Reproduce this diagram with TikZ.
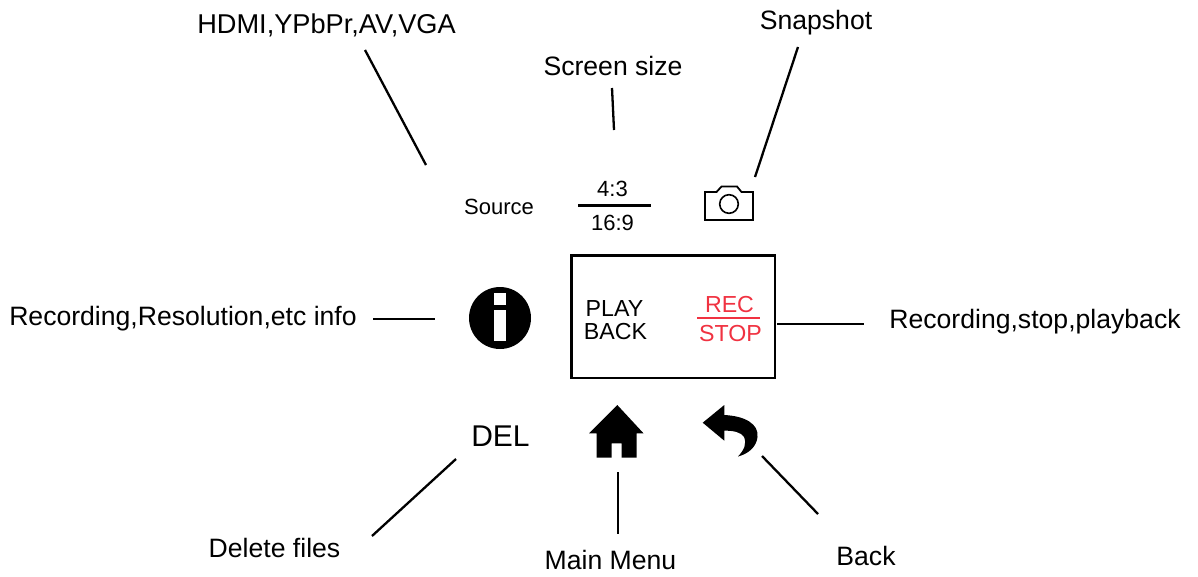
\documentclass[tikz,border=0pt]{standalone}
\usepackage{fontspec}
\setmainfont{Liberation Sans}
\definecolor{recred}{RGB}{240,50,65}
\tikzset{
 lbl/.style={inner sep=0pt,anchor=base,font=\fontsize{26.6}{26.6}\selectfont},
 small/.style={inner sep=0pt,anchor=base,font=\fontsize{22}{22}\selectfont},
 inbox/.style={inner sep=0pt,anchor=base,font=\fontsize{23.2}{23.2}\selectfont},
 conn/.style={line width=2.3pt,black},
 thin rule/.style={line width=2.3pt},
 pic line/.style={line width=2.6pt,black}
}
\begin{document}
\begin{tikzpicture}[x=1pt,y=-1pt]
\useasboundingbox (0,0) rectangle (1198,576);
\node[lbl,font=\fontsize{27.2}{27.2}\selectfont] (hdmi) at (326.5,33) {HDMI,YPbPr,AV,VGA};
\node[lbl] (screen) at (613,75) {Screen size};
\node[lbl] (snap) at (816,29) {Snapshot};
\node[small] (source) at (499,214) {Source};
\node[small] (r43) at (612.5,196) {4:3};
\node[small] (r169) at (612.5,230) {16:9};
\node[lbl] (info) at (183,325) {Recording,Resolution,etc info};
\node[lbl] (rec) at (1035,328) {Recording,stop,playback};
\node[lbl,font=\fontsize{30}{30}\selectfont] (del) at (500.5,446) {DEL};
\node[lbl] (delf) at (274.5,557) {Delete files};
\node[lbl] (menu) at (610.5,569) {Main Menu};
\node[lbl] (back) at (866,565) {Back};
\node[draw,pic line,minimum width=203.5pt,minimum height=122.5pt,inner sep=0pt] (box) at (673.25,316.75) {};
\node[inbox] (play) at (614.5,316.5) {PLAY};
\node[inbox] (pback) at (615.5,339) {BACK};
\node[inbox,text=recred] (recw) at (729.5,312) {REC};
\node[inbox,text=recred] (stop) at (730.5,341) {STOP};
% rules
\coordinate (ra) at (578,205.5); \coordinate (rb) at (651,205.5);
\draw[thin rule] (ra) -- (rb);
\coordinate (rc) at (697,318); \coordinate (rd) at (760,318);
\draw[thin rule,recred] (rc) -- (rd);
% connectors
\coordinate (a1) at (365,50); \coordinate (a2) at (426,165);
\coordinate (b1) at (612,88); \coordinate (b2) at (614,130);
\coordinate (c1) at (798,47); \coordinate (c2) at (755,177);
\coordinate (d1) at (373,319); \coordinate (d2) at (435,319);
\coordinate (e1) at (777,324); \coordinate (e2) at (864,324);
\coordinate (f1) at (456,459); \coordinate (f2) at (372,536);
\coordinate (g1) at (618,472); \coordinate (g2) at (618,534);
\coordinate (h1) at (762,456); \coordinate (h2) at (818,514);
\foreach \p/\q in {a1/a2,b1/b2,c1/c2,d1/d2,e1/e2,f1/f2,g1/g2,h1/h2} \draw[conn] (\p) -- (\q);
% camera
\draw[line width=1.8pt,line join=miter] (705,192) -- (716.5,192) -- (721.5,186.5) -- (737,186.5) -- (741.5,192) -- (753,192) -- (753,220) -- (705,220) -- cycle;
\draw[line width=1.6pt] (729,204) circle (9.3);
% info
\fill (500,318) circle (31);
\fill[white] (493.5,292.5) rectangle (506,305);
\fill[white] (493.5,310) rectangle (506,341);
% home
\fill (617.3,405) -- (643.5,433.3) -- (636.7,433.3) -- (636.7,457.5) -- (621.7,457.5) -- (621.7,443.3) -- (611.7,443.3) -- (611.7,457.5) -- (596.7,457.5) -- (596.7,433.3) -- (589,433.3) -- cycle;
% back arrow
\fill (702.7,422.7) -- (724.3,405) -- (724.3,415) .. controls (745,416) and (759,424) .. (757.5,437) .. controls (756.5,447) and (748,454) .. (738,456.5) .. controls (744,450) and (747,444) .. (744,437) .. controls (741,432) and (733,430.5) .. (724.3,430.7) -- (724.3,440.7) -- cycle;
\end{tikzpicture}
\end{document}
